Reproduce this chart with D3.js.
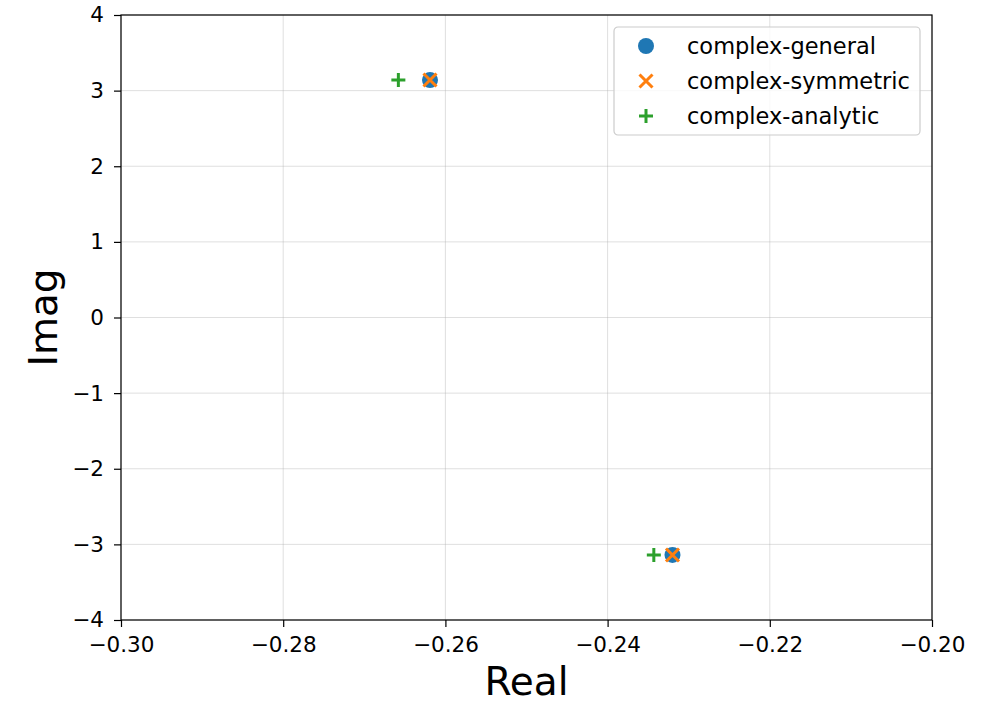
<!DOCTYPE html>
<html>
<head>
<meta charset="utf-8">
<script src="https://cdn.jsdelivr.net/npm/d3@7"></script>
<style>
  body { margin: 0; background: #fff; }
  svg { font-family: "DejaVu Sans", sans-serif; }
</style>
</head>
<body>
<div id="chart"></div>
<script>
// data
const generalRe = [-0.2619, -0.2320];
const generalIm = [3.14, -3.14];
const symmetricRe = [-0.2619, -0.2320];
const symmetricIm = [3.14, -3.14];
const analyticRe = [-0.2658, -0.2343];
const analyticIm = [3.14, -3.14];

const xTicks = [-0.30, -0.28, -0.26, -0.24, -0.22, -0.20];
const yTicks = [-4, -3, -2, -1, 0, 1, 2, 3, 4];
const seriesNames = ['complex-general', 'complex-symmetric', 'complex-analytic'];
const seriesColors = ['#1f77b4', '#ff7f0e', '#2ca02c'];

const width = 987, height = 703;
const margin = {top: 15, right: 55, bottom: 83, left: 121};

const svg = d3.select('#chart').append('svg')
    .attr('width', width)
    .attr('height', height);

const x = d3.scaleLinear().domain([-0.30, -0.20]).range([margin.left, width - margin.right]);
const y = d3.scaleLinear().domain([-4, 4]).range([height - margin.bottom, margin.top]);

const minus = s => s.replace('-', '\u2212');

// grid
svg.append('g').selectAll('line').data(xTicks).enter().append('line')
    .attr('x1', d => x(d)).attr('x2', d => x(d))
    .attr('y1', y(-4)).attr('y2', y(4))
    .attr('stroke', '#b0b0b0').attr('stroke-opacity', 0.5).attr('stroke-width', 0.8);
svg.append('g').selectAll('line').data(yTicks).enter().append('line')
    .attr('y1', d => y(d)).attr('y2', d => y(d))
    .attr('x1', x(-0.30)).attr('x2', x(-0.20))
    .attr('stroke', '#b0b0b0').attr('stroke-opacity', 0.5).attr('stroke-width', 0.8);

// axes
const xAxis = svg.append('g')
    .attr('transform', `translate(0,${y(-4)})`)
    .call(d3.axisBottom(x).tickValues(xTicks).tickSize(7).tickPadding(10)
        .tickFormat(d => minus(d3.format('.2f')(d))));
const yAxis = svg.append('g')
    .attr('transform', `translate(${x(-0.30)},0)`)
    .call(d3.axisLeft(y).tickValues(yTicks).tickSize(7).tickPadding(10)
        .tickFormat(d => minus(d3.format('d')(d))));
[xAxis, yAxis].forEach(a => {
    a.selectAll('text').attr('font-size', 21.5).attr('fill', '#000')
        .attr('font-family', '"DejaVu Sans", sans-serif');
    a.selectAll('line').attr('stroke', '#000').attr('stroke-width', 1.2);
    a.select('.domain').remove();
});

// frame
svg.append('rect')
    .attr('x', x(-0.30)).attr('y', y(4))
    .attr('width', x(-0.20) - x(-0.30)).attr('height', y(-4) - y(4))
    .attr('fill', 'none').attr('stroke', '#000').attr('stroke-width', 1.2);

// axis labels
svg.append('text')
    .attr('x', (x(-0.30) + x(-0.20)) / 2).attr('y', 695)
    .attr('text-anchor', 'middle').attr('font-size', 39)
    .text('Real');
svg.append('text')
    .attr('transform', `translate(57,${(y(4) + y(-4)) / 2}) rotate(-90)`)
    .attr('text-anchor', 'middle').attr('font-size', 39)
    .text('Imag');

// markers
const circle = (g, cx, cy, c) => g.append('circle').attr('cx', cx).attr('cy', cy).attr('r', 8).attr('fill', c);
const cross = (g, cx, cy, c) => g.append('path')
    .attr('d', `M${cx - 6.5},${cy - 6.5}L${cx + 6.5},${cy + 6.5}M${cx - 6.5},${cy + 6.5}L${cx + 6.5},${cy - 6.5}`)
    .attr('stroke', c).attr('stroke-width', 3).attr('fill', 'none');
const plus = (g, cx, cy, c) => g.append('path')
    .attr('d', `M${cx - 7},${cy}L${cx + 7},${cy}M${cx},${cy - 7}L${cx},${cy + 7}`)
    .attr('stroke', c).attr('stroke-width', 3).attr('fill', 'none');

const pts = svg.append('g');
generalRe.forEach((d, i) => circle(pts, x(d), y(generalIm[i]), seriesColors[0]));
symmetricRe.forEach((d, i) => cross(pts, x(d), y(symmetricIm[i]), seriesColors[1]));
analyticRe.forEach((d, i) => plus(pts, x(d), y(analyticIm[i]), seriesColors[2]));

// legend
const lg = svg.append('g').attr('transform', 'translate(614,27)');
lg.append('rect').attr('width', 306).attr('height', 108).attr('rx', 4)
    .attr('fill', '#fff').attr('fill-opacity', 0.8)
    .attr('stroke', '#cccccc').attr('stroke-width', 1.2);
const markers = [circle, cross, plus];
seriesNames.forEach((name, i) => {
    const cy = 19 + i * 35;
    markers[i](lg, 32, cy, seriesColors[i]);
    lg.append('text').attr('x', 73).attr('y', cy).attr('dy', '0.35em')
        .attr('font-size', 22.5).text(name);
});
</script>
</body>
</html>
